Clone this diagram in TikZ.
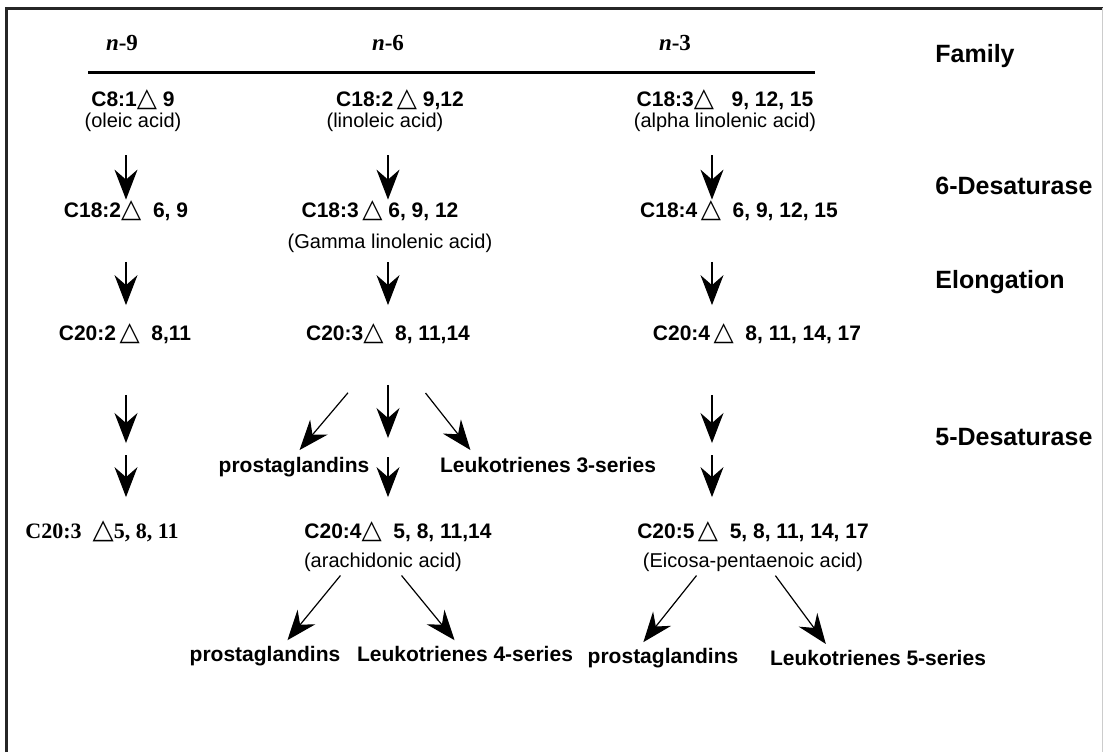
\documentclass[tikz,border=0pt]{standalone}
\usepackage{fontspec}
\usepackage{graphicx}
\setmainfont{Liberation Sans}
\newfontfamily\serifface{Liberation Serif}
\newfontfamily\symface{DejaVu Sans}
\usetikzlibrary{arrows.meta,calc}
\newcommand{\tri}{{\symface\mdseries\scalebox{1.25}{△}}}

\begin{document}
\begin{tikzpicture}[x=0.5pt,y=-0.5pt,>={Stealth[length=15pt,width=11.5pt,inset=5pt]},
  every node/.style={inner sep=0pt,text height=0.75em,text depth=0.25em}]
\tikzset{
  cmp/.style={font=\fontsize{10.5}{12}\selectfont\bfseries},
  cmpserif/.style={font=\fontsize{11}{12}\selectfont\serifface\bfseries},
  acid/.style={font=\fontsize{10}{12}\selectfont},
  prod/.style={font=\fontsize{10.5}{12}\selectfont\bfseries},
  fam/.style={font=\fontsize{11.5}{13}\selectfont\serifface\bfseries},
  enz/.style={anchor=west,font=\fontsize{12.5}{14}\selectfont\bfseries},
  arr/.style={->,line width=0.6pt},
  arrA/.style={arr,shorten <=11.5pt,shorten >=1pt},
  arrB/.style={arr,shorten <=19.75pt,shorten >=9.75pt},
  arrD/.style={arr,shorten <=2pt,shorten >=3.5pt}
}
\useasboundingbox (0,0) rectangle (1105,752);
% frame
\draw[line width=1.5pt,black!85] (6,752) -- (6,8) -- (1103,8);
\draw[line width=0.5pt,black!20] (1102,8) -- (1102,752);

% families
\node[fam] (n9) at (122,45) {\textit{n}-9};
\node[fam] (n6) at (388,45) {\textit{n}-6};
\node[fam] (n3) at (675,45) {\textit{n}-3};
\draw[line width=1.5pt] (88,72) -- (815,72);
\coordinate (k1) at (126,0);
\coordinate (k2) at (388,0);
\coordinate (k3) at (712,0);

% enzyme steps
\node[enz] (famlbl) at (935,57) {Family};
\node[enz] (d6) at (935,189) {6-Desaturase};
\node[enz] (elo) at (935,283) {Elongation};
\node[enz] (d5) at (935,440) {5-Desaturase};

% parent acids
\node[cmp] (c181) at (133,101) {C8:1\tri\ 9};
\node[acid] (ole) at (133,122) {(oleic acid)};
\node[cmp] (c182b) at (400,101) {C18:2\,\tri\ 9,12};
\node[acid] (lin) at (385,122) {(linoleic acid)};
\node[cmp] (c183b) at (725,101) {C18:3\tri\ \ \ 9, 12, 15};
\node[acid] (ala) at (725,122) {(alpha linolenic acid)};

% after 6-desaturase
\node[cmp] (c182a) at (126,212) {C18:2\tri\ \ 6, 9};
\node[cmp] (c183) at (380,212) {C18:3\,\tri\ 6, 9, 12};
\node[acid] (gla) at (390,243) {(Gamma linolenic acid)};
\node[cmp] (c184) at (739,212) {C18:4\,\tri\ \ 6, 9, 12, 15};

% after elongation
\node[cmp] (c202) at (125,335) {C20:2\,\tri\ \ 8,11};
\node[cmp] (c203) at (388,335) {C20:3\tri\ \ 8, 11,14};
\node[cmp] (c204) at (757,335) {C20:4\,\tri\ \ 8, 11, 14, 17};
\node[prod] (pg3) at (294,467) {prostaglandins};
\node[prod] (lk3) at (548,467) {Leukotrienes 3-series};

% after 5-desaturase
\node[cmpserif] (c203s) at (102,533) {C20:3\ \ \tri5, 8, 11};
\node[cmp] (c204ar) at (398,533) {C20:4\tri\ \ 5, 8, 11,14};
\node[acid] (ara) at (383,562) {(arachidonic acid)};
\node[cmp] (c205) at (753,533) {C20:5\,\tri\ \ 5, 8, 11, 14, 17};
\node[acid] (eic) at (753,562) {(Eicosa-pentaenoic acid)};
\node[prod] (pg4) at (265,656) {prostaglandins};
\node[prod] (lk4) at (465,656) {Leukotrienes 4-series};
\node[prod] (pg5) at (663,658) {prostaglandins};
\node[prod] (lk5) at (878,660) {Leukotrienes 5-series};

\coordinate (m1) at (126,449);
\coordinate (m2) at (388,449);
\coordinate (m3) at (712,449);

% 6-desaturase
\draw[arrA] (ole.south -| k1) -- (c182a.north -| k1);
\draw[arrA] (lin.south -| k2) -- (c183.north -| k2);
\draw[arrA] (ala.south -| k3) -- (c184.north -| k3);
% elongation
\draw[arrB] (c182a.south -| k1) -- (c202.north -| k1);
\draw[arr,shorten <=4.5pt,shorten >=9.75pt] (gla.south -| k2) -- (c203.north -| k2);
\draw[arrB] (c184.south -| k3) -- (c204.north -| k3);
% 5-desaturase
\draw[arr,shorten <=24.75pt,shorten >=3pt] (c202.south -| k1) -- (m1);
\draw[arr,shorten <=3pt,shorten >=12.75pt] (m1) -- (c203s.north -| k1);
\draw[arr,shorten <=24.75pt,shorten >=3pt] (c204.south -| k3) -- (m3);
\draw[arr,shorten <=3pt,shorten >=12.75pt] (m3) -- (c205.north -| k3);
\draw[arr,shorten <=19.75pt,shorten >=5.5pt] (c203.south -| k2) -- (m2);
\draw[arr,shorten <=4pt,shorten >=12.75pt] (m2) -- (c204ar.north -| k2);
\draw[arr,shorten <=31pt,shorten >=4.3pt] (c203.south) -- (pg3.north);
\draw[arr,shorten <=30.3pt,shorten >=4.2pt] (c203.south) -- ([xshift=18pt]lk3.north west);
% eicosanoids
\draw[arrD] ([xshift=-20pt]ara.south) -- ([xshift=9pt]pg4.north);
\draw[arrD] ([xshift=8pt]ara.south) -- ([xshift=-3pt]lk4.north);
\draw[arrD] ([xshift=-27pt]eic.south) -- ([xshift=-12pt]pg5.north);
\draw[arrD] ([xshift=10pt]eic.south) -- ([xshift=-24pt]lk5.north);
\end{tikzpicture}
\end{document}
